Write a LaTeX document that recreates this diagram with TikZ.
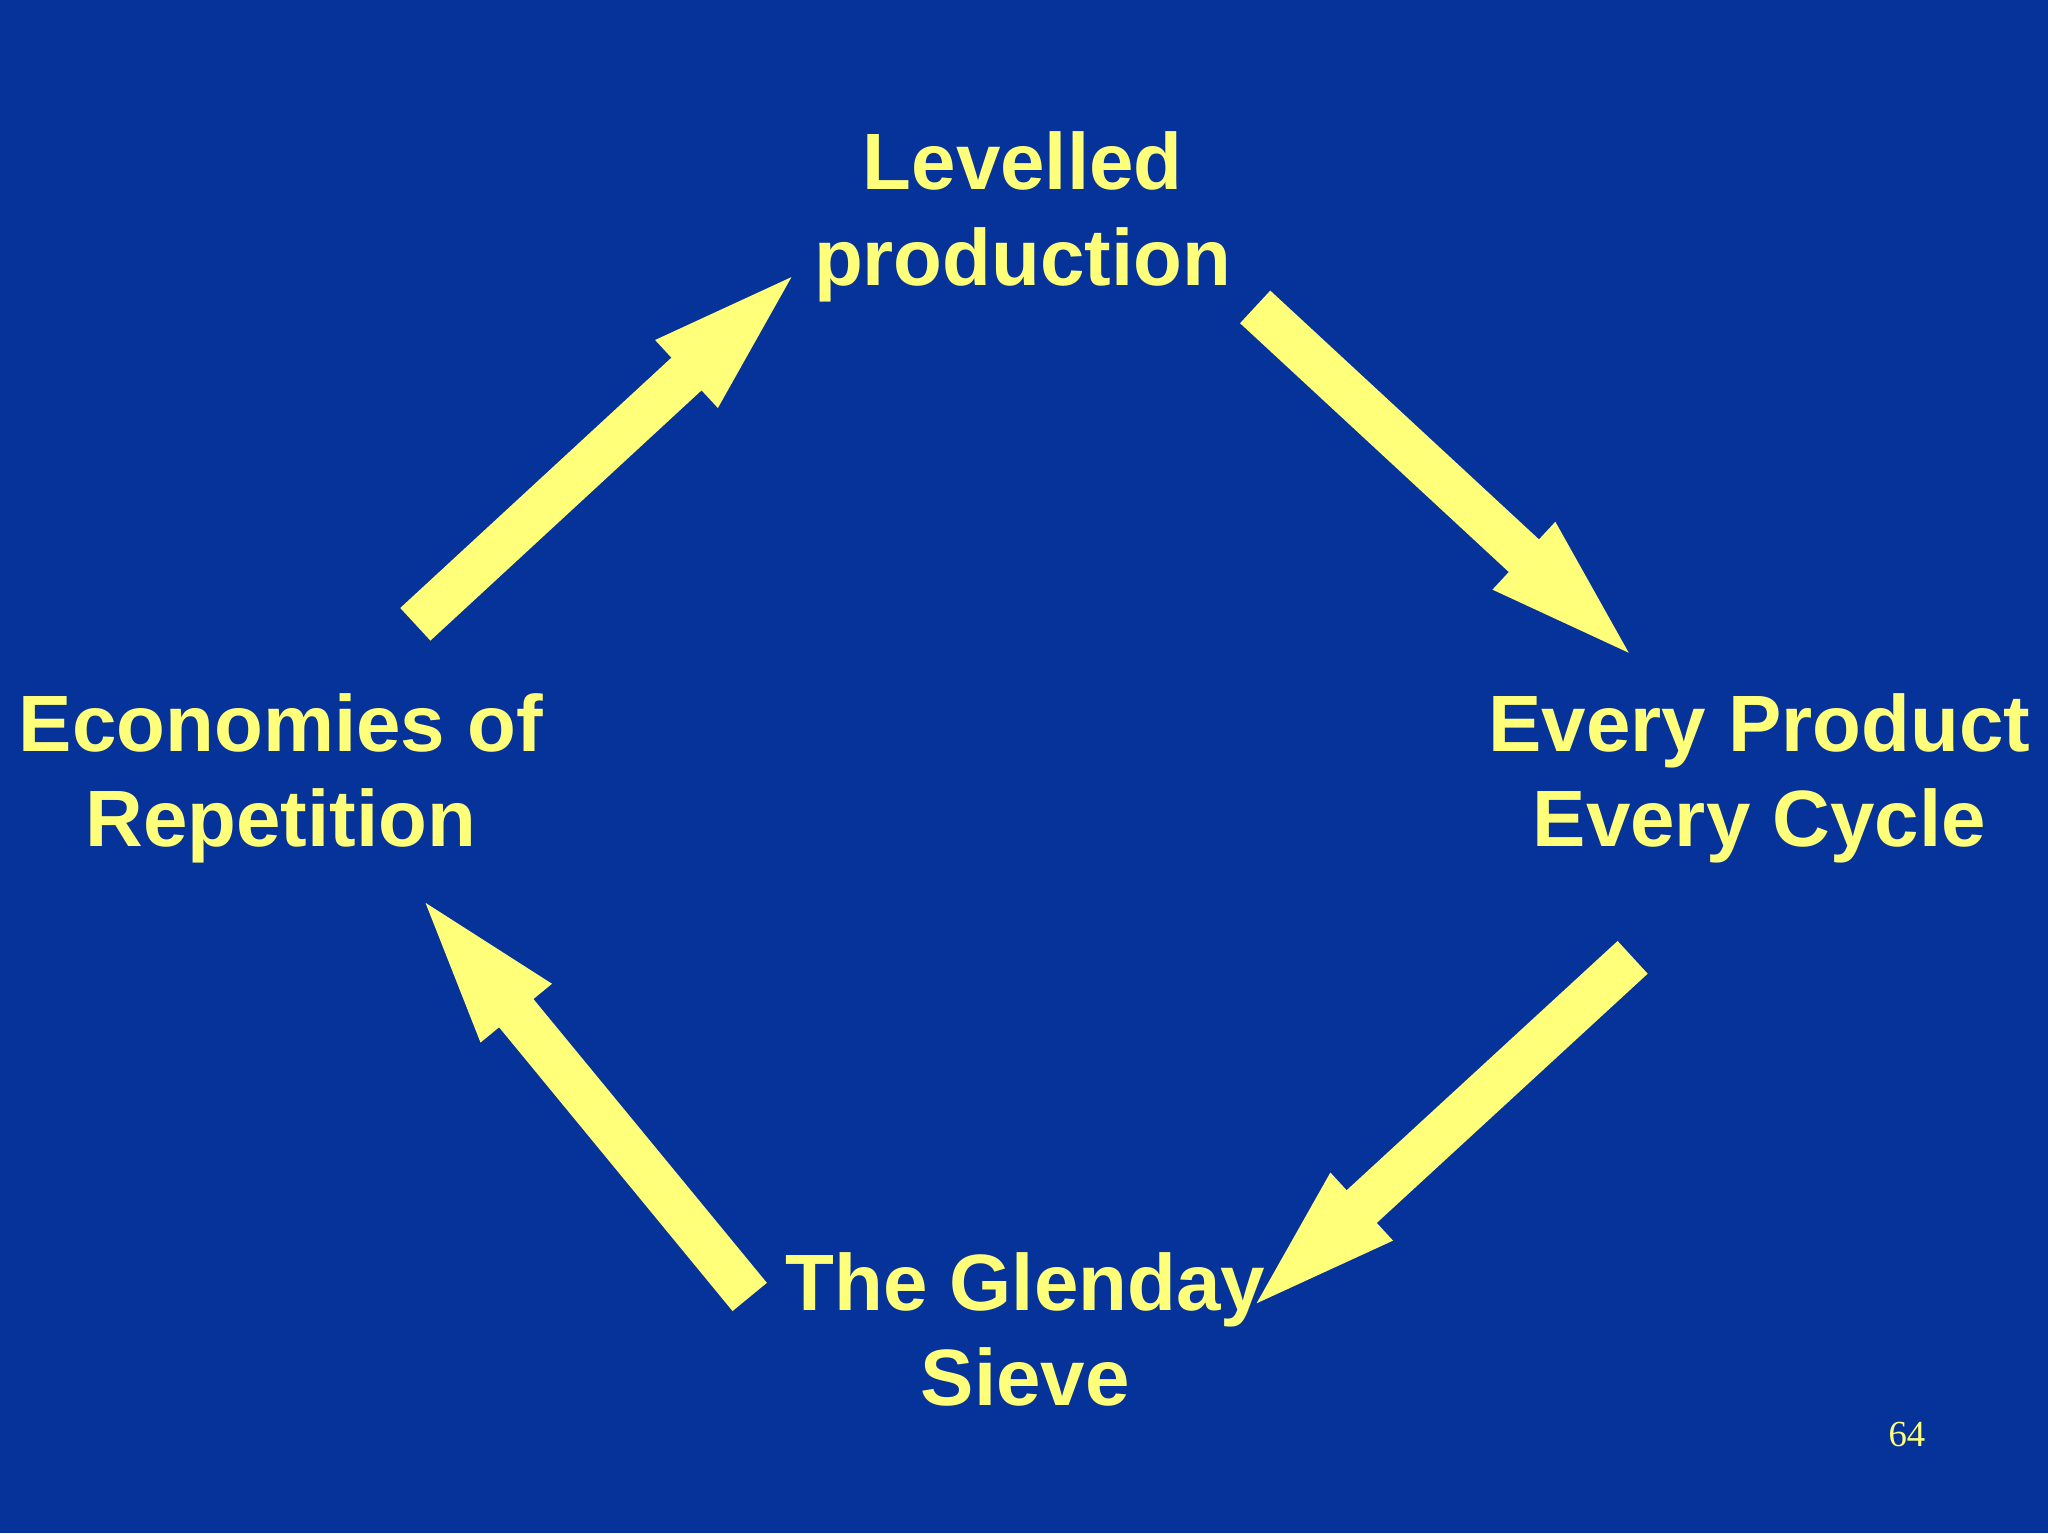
\documentclass[tikz,border=0pt]{standalone}
\usepackage{fontspec}
\setmainfont{Liberation Sans}
\newfontfamily\serifnum{Liberation Serif}
\usetikzlibrary{arrows.meta,calc}
\definecolor{bg}{HTML}{06339A}
\definecolor{yel}{HTML}{FFFF7A}
\begin{document}
\begin{tikzpicture}[x=0.01cm,y=-0.01cm,
  lbl/.style={text=yel,font=\bfseries\fontsize{17.4}{20.8}\selectfont,align=center,inner sep=0pt},
  fat/.style={draw=yel,line width=0.34cm,-{Triangle[length=1.42cm,width=0.56cm]}}]
\fill[bg] (0,0) rectangle (1568,1174);
\useasboundingbox (0,0) rectangle (1568,1174);
\node[lbl] (lev) at (783,166) {Levelled\\production};
\node[lbl] (eco) at (215,596) {Economies of\\Repetition};
\node[lbl] (epe) at (1347,596) {Every Product\\Every Cycle};
\node[lbl] (gle) at (785,1018) {The Glenday\\Sieve};
\node[text=yel,font=\serifnum\fontsize{8}{10}\selectfont] (pg) at (1460,1098) {64};
\coordinate (a1s) at (318,478); \coordinate (a1e) at (630,190);
\coordinate (a2s) at (961,235); \coordinate (a2e) at (1271,522);
\coordinate (a3s) at (1250,733); \coordinate (a3e) at (938,1020);
\coordinate (a4s) at (574,993); \coordinate (a4e) at (305,666);
\draw[fat] (a1s) -- (a1e);
\draw[fat] (a2s) -- (a2e);
\draw[fat] (a3s) -- (a3e);
\draw[fat] (a4s) -- (a4e);
\end{tikzpicture}
\end{document}
